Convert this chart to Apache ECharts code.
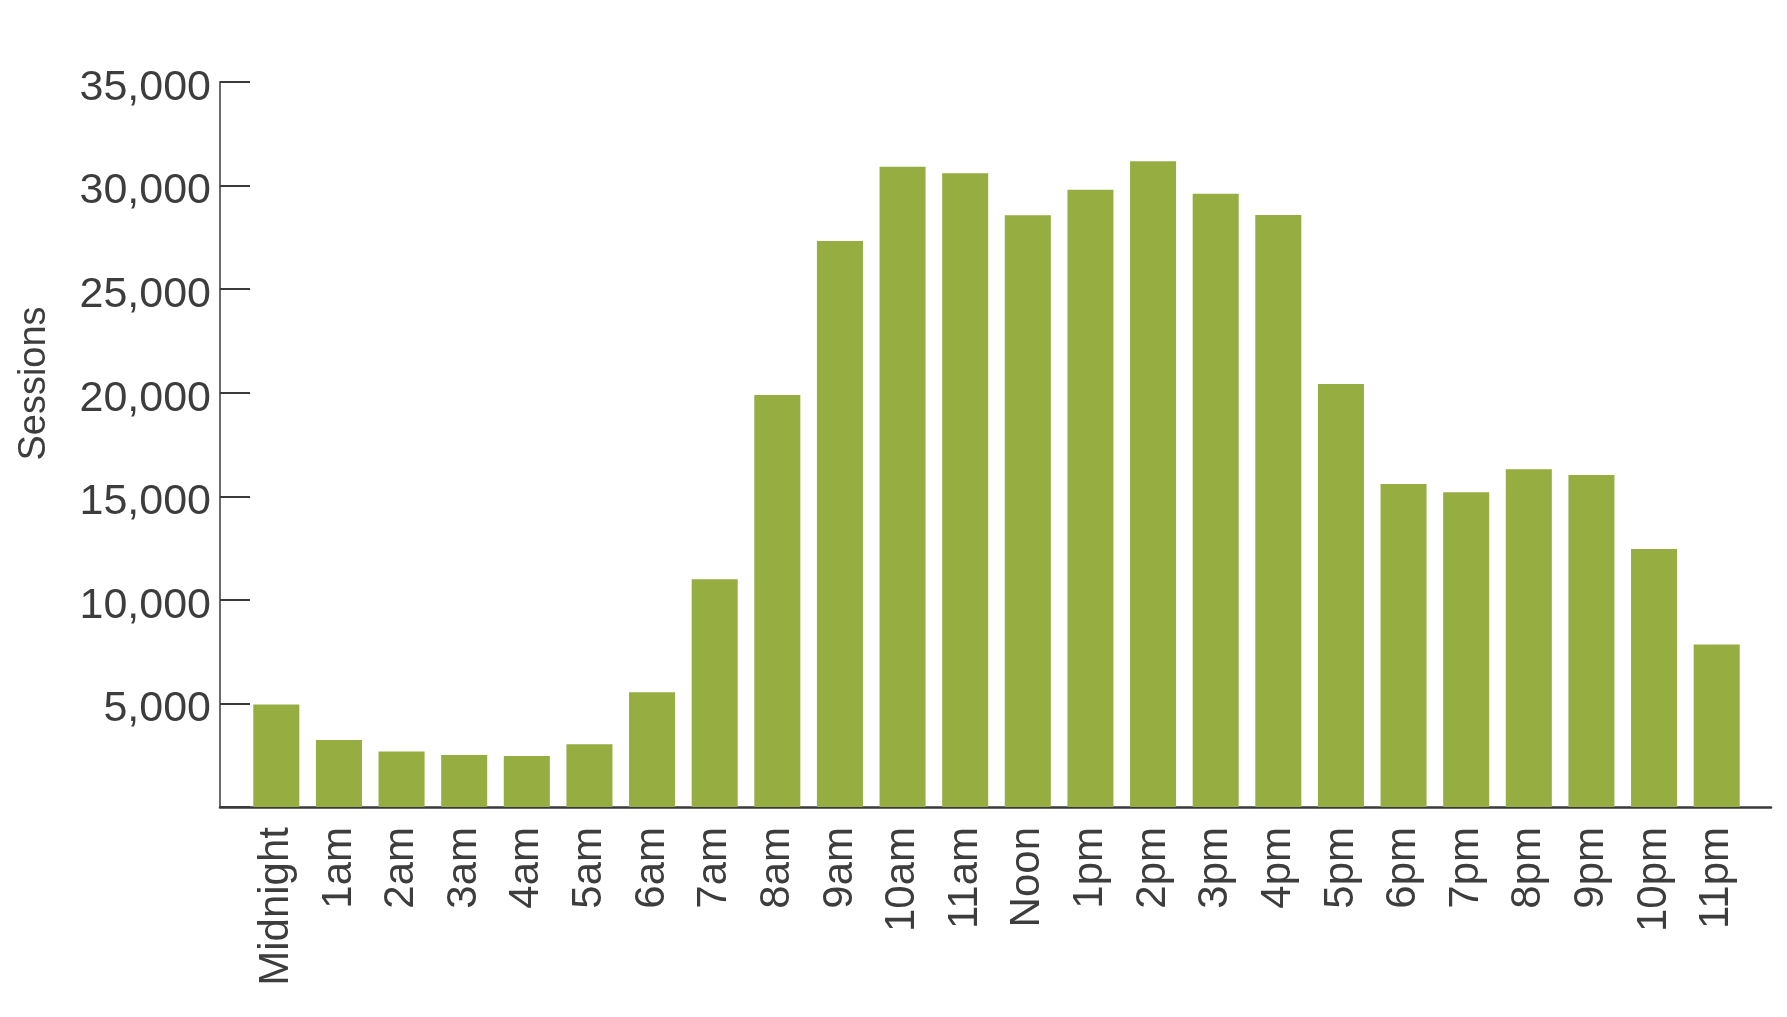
<html>
<head>
<meta charset="UTF-8">
<script src="https://cdnjs.cloudflare.com/ajax/libs/echarts/6.0.0/echarts.min.js"></script>
<style>
	html, body { margin: 0; padding: 0; background: #fff; }
</style>
</head>
<body>
	<div id="sessionsChart" style="height:1017px;width:1787px"></div>
</body>
<script>
	// hour of day labels
	var hours = ['Midnight', '1am', '2am', '3am', '4am', '5am', '6am', '7am', '8am', '9am', '10am', '11am',
		'Noon', '1pm', '2pm', '3pm', '4pm', '5pm', '6pm', '7pm', '8pm', '9pm', '10pm', '11pm'];
	// sessions per hour
	var sessions = [4950, 3230, 2680, 2510, 2460, 3030, 5540, 10990, 19890, 27330, 30910, 30600,
		28570, 29800, 31180, 29600, 28580, 20420, 15590, 15190, 16300, 16030, 12450, 7850];
	var yMin = 0;
	var yMax = 35000;
	var yStep = 5000;

	var textColor = '#3d3d3d';
	var fontFamily = '"Liberation Sans", Arial, sans-serif';

	var chart = echarts.init(document.getElementById('sessionsChart'));

	var option = {
		animation: false,
		textStyle: { fontFamily: fontFamily },
		grid: [
			// axis frame
			{ left: 220, right: 16, top: 82, bottom: 210, containLabel: false, outerBoundsMode: 'none' },
			// bars sit a little inside the frame
			{ left: 245, right: 39, top: 82, bottom: 210, containLabel: false, outerBoundsMode: 'none' }
		],
		xAxis: [
			{
				gridIndex: 0, type: 'value', min: 0, max: 1,
				axisLine: { show: true, lineStyle: { color: '#3a3a3a', width: 2.5 } },
				axisTick: { show: false }, axisLabel: { show: false }, splitLine: { show: false }
			},
			{
				gridIndex: 1, type: 'category', data: hours,
				axisLine: { show: false }, axisTick: { show: false },
				axisLabel: {
					rotate: 90, margin: 20, interval: 0,
					color: textColor, fontSize: 42, fontFamily: fontFamily
				}
			}
		],
		yAxis: [
			{
				gridIndex: 0, type: 'value', min: yMin, max: yMax, interval: yStep,
				name: 'Sessions', nameLocation: 'middle', nameGap: 166,
				nameTextStyle: { color: textColor, fontSize: 38, fontFamily: fontFamily, padding: [0, 0, 0, 122] },
				axisLine: { show: true, lineStyle: { color: '#6a6a6a', width: 2 } },
				axisTick: { show: true, inside: true, length: 30, lineStyle: { color: '#3a3a3a', width: 2 } },
				axisLabel: {
					margin: 9,
					formatter: function (v) { return v === 0 ? '' : '{t|' + echarts.format.addCommas(v) + '}'; },
					rich: {
						// labels sit a touch below their tick in the original
						t: { color: textColor, fontSize: 43, fontFamily: fontFamily, padding: [12, 0, 0, 0] }
					}
				},
				splitLine: { show: false }
			},
			{
				gridIndex: 1, type: 'value', min: yMin, max: yMax, interval: yStep, show: false
			}
		],
		series: [{
			type: 'bar',
			xAxisIndex: 1,
			yAxisIndex: 1,
			data: sessions,
			barCategoryGap: '26.5%',
			itemStyle: { color: '#95ad41' }
		}]
	};
	chart.setOption(option);
</script>
</html>
